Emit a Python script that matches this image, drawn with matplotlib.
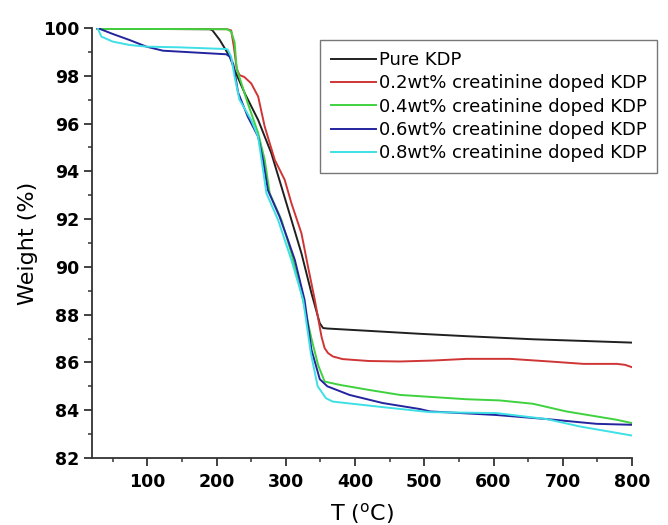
import matplotlib
matplotlib.use("Agg")
import matplotlib.pyplot as plt
from matplotlib.ticker import MultipleLocator

# TGA curves
t_pure = [28, 100, 190, 194, 204.5, 219, 226, 240.6, 260, 279, 293.6, 308, 322.5, 337, 349, 353.8, 360,
          421, 493, 560, 657, 730, 800]
w_pure = [99.96, 99.96, 99.95, 99.9, 99.5, 98.8, 98.24, 97.27, 96.15, 94.76, 93.36, 91.97, 90.57, 88.9,
          87.64, 87.44, 87.42, 87.32, 87.2, 87.1, 86.97, 86.9, 86.83]

t_02 = [28, 100, 215, 221, 225, 229, 233, 240, 250, 260, 269.5, 284, 298.4, 308, 322.5, 332, 341.8, 351.5,
        356, 361, 368, 382, 420, 465, 513, 561, 624, 681, 730, 778, 790, 800]
w_02 = [99.96, 99.96, 99.95, 99.9, 99.2, 98.3, 98.03, 97.95, 97.68, 97.13, 95.87, 94.48, 93.64, 92.67, 91.41,
        90.01, 88.62, 87.08, 86.6, 86.39, 86.25, 86.14, 86.06, 86.04, 86.08, 86.15, 86.15, 86.04, 85.94,
        85.94, 85.9, 85.8]

t_04 = [28, 100, 215, 221, 226, 229, 245, 260, 269.5, 276.7, 293.6, 308, 322.5, 337, 346.5, 356, 378,
        420, 465, 561, 609, 657, 705, 778, 800]
w_04 = [99.96, 99.96, 99.95, 99.85, 99.4, 98.3, 96.85, 95.6, 94.48, 93.08, 91.97, 90.57, 88.9, 87.0, 85.9,
        85.2, 85.06, 84.85, 84.64, 84.46, 84.41, 84.27, 83.95, 83.6, 83.46]

t_06 = [28, 50, 74, 98.5, 122.5, 171, 214, 219, 224, 231, 245, 260, 267, 274, 291, 303, 313, 327, 337,
        349, 360, 392, 440, 493.5, 508, 604, 676.6, 748.8, 800]
w_06 = [100, 99.75, 99.5, 99.22, 99.05, 98.97, 98.9, 98.8, 98.5, 97.3, 96.29, 95.45, 94.48, 93.22, 92.1,
        91.13, 90.29, 88.62, 86.53, 85.3, 85.0, 84.64, 84.3, 84.05, 83.95, 83.8, 83.63, 83.43, 83.39]

t_08 = [28, 33.5, 50, 74, 98.5, 146.7, 214, 216, 221, 226, 233, 250, 260, 272, 288.7, 308, 325, 336,
        346, 358, 368, 440, 508, 604, 676.6, 724.7, 800]
w_08 = [100, 99.64, 99.43, 99.29, 99.22, 99.19, 99.12, 99.1, 98.8, 97.96, 97.0, 96.15, 95.45, 93.08, 91.97,
        90.29, 88.62, 86.4, 85.0, 84.5, 84.36, 84.13, 83.92, 83.88, 83.63, 83.32, 82.94]

labels = ["Pure KDP",
          "0.2wt% creatinine doped KDP",
          "0.4wt% creatinine doped KDP",
          "0.6wt% creatinine doped KDP",
          "0.8wt% creatinine doped KDP"]
colors = ["#202020", "#d03535", "#3fd23f", "#24249e", "#3ee0e6"]

fig = plt.figure(figsize=(6.68, 5.25), dpi=100)
ax = fig.add_axes([92 / 668, 1 - 458 / 525, 540 / 668, 430 / 525])

series = [(t_pure, w_pure), (t_02, w_02), (t_04, w_04), (t_06, w_06), (t_08, w_08)]
for (t, w), lab, c in zip(series, labels, colors):
    ax.plot(t, w, color=c, lw=1.4, label=lab)

ax.set_xlim(20, 800)
ax.set_ylim(82, 100)
ax.xaxis.set_major_locator(MultipleLocator(100))
ax.xaxis.set_minor_locator(MultipleLocator(50))
ax.yaxis.set_major_locator(MultipleLocator(2))
ax.yaxis.set_minor_locator(MultipleLocator(1))

for side in ["top", "right"]:
    ax.spines[side].set_visible(False)
for side in ["left", "bottom"]:
    ax.spines[side].set_linewidth(1.3)
    ax.spines[side].set_color("#333333")

ax.tick_params(which="major", direction="out", length=6, width=1.3, color="#333333")
ax.tick_params(axis="x", which="major", pad=5)
ax.tick_params(axis="y", which="major", pad=3)
ax.tick_params(which="minor", direction="out", length=3, width=1.1, color="#333333")
for lab in ax.get_xticklabels() + ax.get_yticklabels():
    lab.set_fontweight("bold")
    lab.set_fontsize(12.5)

ax.set_ylabel("Weight (%)", fontsize=16, labelpad=4)
ax.set_xlabel(r"T ($\mathregular{^o}$C)", fontsize=16, labelpad=7)

leg = ax.legend(loc="upper left", bbox_to_anchor=(320 / 668, 1 - 40 / 525), bbox_transform=fig.transFigure,
                fontsize=13, frameon=True, fancybox=False, handlelength=2.5, handletextpad=0.15,
                labelspacing=0.3, borderpad=0.6, borderaxespad=0)
leg.get_frame().set_edgecolor("#555555")
leg.get_frame().set_linewidth(1.0)

fig.savefig("out.png", dpi=100)
